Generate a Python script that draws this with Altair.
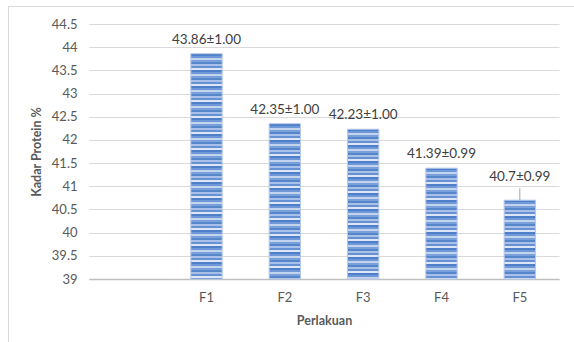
import altair as alt
import pandas as pd

# Protein content per treatment (mean ± SD)
categories = ["F1", "F2", "F3", "F4", "F5"]
means = [43.86, 42.35, 42.23, 41.39, 40.7]
sds = [1.00, 1.00, 1.00, 0.99, 0.99]
x_domain = ["-", "F1", "F2", "F3", "F4", "F5"]   # first slot is left empty
y_ticks = [39, 39.5, 40, 40.5, 41, 41.5, 42, 42.5, 43, 43.5, 44, 44.5]
leader_categories = ["F5"]                      # labels lifted with a leader line

Y_MIN, Y_MAX = 39, 44.5
W, H = 470, 255
FONT = "Lato"
TXT = "#595959"

df = pd.DataFrame({"cat": categories, "mean": means, "sd": sds})
df["label"] = [f"{m:g}±{s:.2f}" for m, s in zip(means, sds)]

x_enc = alt.X(
    "cat:N",
    scale=alt.Scale(domain=x_domain, paddingInner=0.6, paddingOuter=0.3),
    sort=x_domain,
    axis=alt.Axis(
        title="Perlakuan",
        labelAngle=0,
        labelExpr="datum.value == '-' ? '' : datum.label",
        ticks=False,
        domainColor="#bfbfbf",
        domainWidth=1.5,
        labelPadding=12,
        titlePadding=10,
    ),
)
y_enc = alt.Y(
    "mean:Q",
    scale=alt.Scale(domain=[Y_MIN, Y_MAX], nice=False, zero=False),
    axis=alt.Axis(
        title="Kadar Protein %",
        values=y_ticks,
        format="~g",
        ticks=False,
        domain=False,
        grid=True,
        gridColor="#d9d9d9",
        gridWidth=1,
        labelOverlap=False,
        labelPadding=12,
        titlePadding=8,
    ),
)


def stripe_gradient(value):
    """Horizontal striped fill with a constant stripe pitch in pixels."""
    h = (value - Y_MIN) / (Y_MAX - Y_MIN) * H
    cycle = ["#4e7fc8", "#6f98d8", "#c3d4ef", "#7aa0da", "#5686cc", "#a9c1e8", "#6891d4", "#dce6f6"]
    seg = 2.0
    stops = []
    pos, k = 0.0, 0
    while pos < h:
        c = cycle[k % len(cycle)]
        a = pos / h
        b = min(pos + seg, h) / h
        stops.append({"offset": a, "color": c})
        stops.append({"offset": b, "color": c})
        pos += seg
        k += 1
    return {"gradient": "linear", "x1": 0, "y1": 0, "x2": 0, "y2": 1, "stops": stops}


base = alt.Chart(df)

bar_layers = []
for cat, m in zip(categories, means):
    bar_layers.append(
        base.transform_filter(alt.datum.cat == cat)
        .mark_bar(color=stripe_gradient(m), stroke="#b3c8ea", strokeWidth=1)
        .encode(x=x_enc, y=y_enc, y2=alt.datum(Y_MIN))
    )

is_leader = alt.FieldOneOfPredicate(field="cat", oneOf=leader_categories)

labels = (
    base.transform_filter(~is_leader)
    .mark_text(baseline="bottom", dy=-7, font=FONT, fontSize=13.5, color="#404040")
    .encode(x=x_enc, y=y_enc, text="label:N")
)
lifted_labels = (
    base.transform_filter(is_leader)
    .mark_text(baseline="bottom", dy=-16, font=FONT, fontSize=13.5, color="#404040")
    .encode(x=x_enc, y=y_enc, text="label:N")
)
leaders = (
    base.transform_filter(is_leader)
    .mark_rule(color="#a6a6a6", strokeWidth=1, y2Offset=-12)
    .encode(x=x_enc, y=y_enc, y2="mean:Q")
)

# outer frame of the chart area (left and top edges)
frame_left = alt.Chart(df).mark_rule(color="#d9d9d9", strokeWidth=1).encode(
    x=alt.value(-80.5), y=alt.value(-17.5), y2=alt.value(330)
)
frame_top = alt.Chart(df).mark_rule(color="#d9d9d9", strokeWidth=1).encode(
    x=alt.value(-80.5), x2=alt.value(490), y=alt.value(-17.5)
)

chart = (
    alt.layer(*bar_layers, labels, lifted_labels, leaders, frame_left, frame_top)
    .properties(
        width=W,
        height=H,
        autosize=alt.AutoSizeParams(type="none"),
        padding={"left": 89, "top": 24, "right": 15, "bottom": 63},
        background="white",
    )
    .configure_view(stroke=None)
    .configure_axis(
        labelFont=FONT,
        labelFontSize=13,
        labelColor=TXT,
        titleFont=FONT,
        titleFontSize=12.5,
        titleFontWeight="bold",
        titleColor=TXT,
    )
)

chart.save("out.html", embed_options={"renderer": "svg", "actions": False})
